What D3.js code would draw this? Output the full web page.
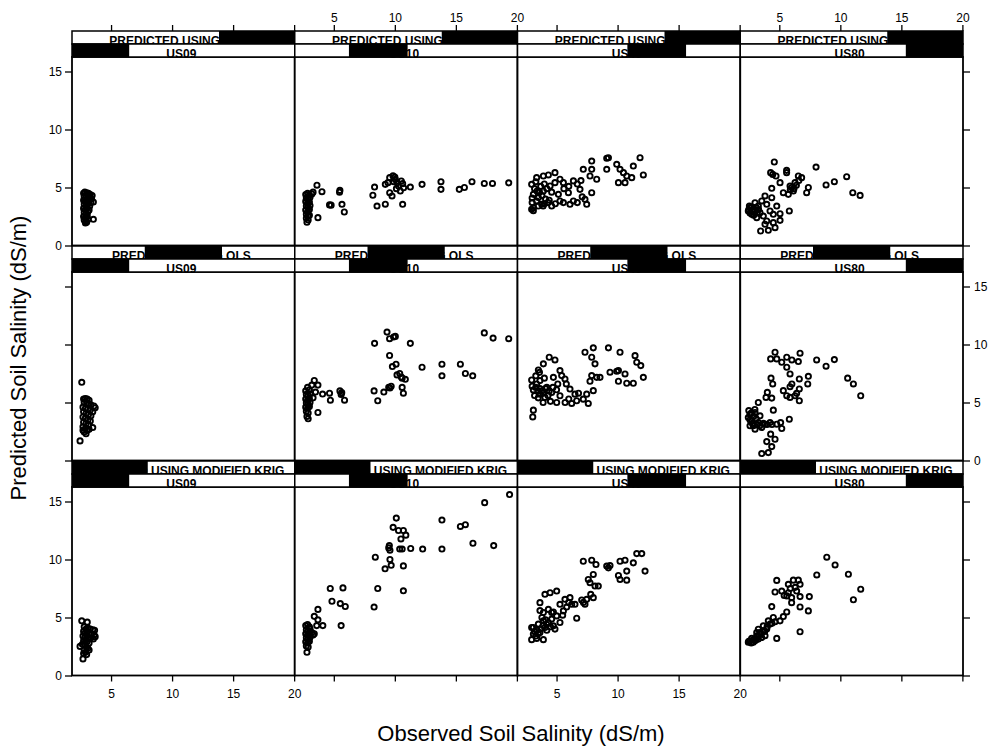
<!DOCTYPE html>
<html>
<head>
<meta charset="utf-8">
<script src="https://cdn.jsdelivr.net/npm/d3@7"></script>
<style>
  body { margin: 0; background: #fff; }
  svg text { font-family: "Liberation Sans", Arial, Helvetica, sans-serif; }
</style>
</head>
<body>
<div id="chart"></div>
<script>
// conditioning levels (columns = site, rows = prediction method)
var sites = ["US09", "US10", "US40", "US80"];
var methods = ["PREDICTED USING KRIG", "PREDICTED USING OLS", "PREDICTED USING MODIFIED KRIG"];
var xTicks = [5, 10, 15, 20];
var yTicks = [0, 5, 10, 15];

// [observed, predicted] pairs
var krigUS09 = [[2.75,4.5],[2.85,4.6],[3.0,4.55],[3.15,4.5],[3.3,4.4],[3.45,4.3],[2.8,4.2],[2.95,4.3],[3.1,4.15],[3.25,4.2],[3.4,4.0],[2.75,3.9],[2.9,3.8],[3.05,3.95],[3.2,3.85],[3.35,3.7],[3.55,3.75],[2.8,3.55],[2.95,3.45],[3.1,3.6],[3.25,3.4],[2.75,3.2],[2.9,3.1],[3.05,3.25],[3.2,3.05],[2.8,2.85],[2.95,2.75],[3.1,2.9],[2.75,2.5],[2.9,2.4],[3.05,2.55],[2.8,2.2],[2.95,2.1],[3.1,2.25],[2.9,1.95],[3.55,2.26],[3.0,2.0]];
var krigUS10 = [[2.7,4.4],[2.85,4.5],[3.0,4.35],[3.2,4.45],[2.75,4.1],[2.9,4.0],[3.05,4.15],[2.7,3.8],[2.85,3.65],[3.0,3.75],[2.75,3.4],[2.9,3.3],[3.05,3.45],[2.7,3.05],[2.85,2.9],[3.0,3.1],[2.75,2.7],[2.9,2.55],[2.75,2.35],[2.9,2.2],[2.8,2.0],[3.0,2.6],[3.7,2.4],[3.62,5.2],[4.03,4.64],[3.3,4.6],[4.65,3.5],[4.78,3.48],[5.47,4.6],[5.5,4.75],[5.67,3.55],[5.86,2.89],[8.34,5.04],[8.2,4.33],[8.54,3.4],[9.22,3.56],[9.22,5.27],[9.44,5.42],[9.58,5.85],[9.85,6.0],[10.04,5.7],[10.18,5.42],[10.3,5.13],[10.53,5.56],[10.64,5.33],[10.45,4.7],[9.58,4.55],[9.77,4.27],[10.13,4.9],[10.72,4.98],[9.9,5.5],[10.0,5.9],[10.64,3.55],[11.27,5.04],[12.23,5.27],[13.78,5.5],[13.78,4.84],[15.28,4.84],[15.7,5.0],[16.32,5.5],[17.33,5.35],[18.0,5.35],[19.33,5.4]];
var krigUS40 = [[2.96,5.27],[3.37,5.85],[3.92,5.99],[4.33,6.08],[4.87,6.28],[5.28,5.71],[5.56,5.42],[6.38,5.57],[7.19,6.57],[7.88,7.28],[7.88,6.57],[7.74,5.99],[8.29,5.71],[9.11,7.52],[9.25,7.57],[9.11,6.57],[9.93,7.0],[10.2,6.57],[10.48,6.28],[10.75,5.99],[11.29,6.85],[11.84,7.57],[12.11,6.08],[10.07,5.42],[10.61,5.42],[11.16,5.85],[6.92,4.84],[7.88,4.55],[7.33,3.98],[7.47,3.55],[5.97,4.55],[6.1,3.55],[6.38,3.84],[5.15,4.41],[4.47,5.13],[3.1,4.41],[3.1,3.26],[3.37,3.84],[3.78,3.55],[4.6,3.4],[5.28,3.84],[5.56,3.7],[3.92,4.7],[3.51,4.13],[2.96,3.12],[4.87,5.42],[3.2,4.9],[3.6,4.6],[3.8,4.3],[4.1,4.0],[4.3,3.7],[3.5,3.4],[3.0,3.7],[4.0,5.3],[4.6,4.6],[3.3,5.5],[3.7,5.1],[4.2,4.9],[3.0,4.1],[4.9,3.6],[5.6,4.9],[6.0,5.1],[6.7,5.3],[7.0,5.6],[3.1,3.0],[3.9,3.4],[4.4,3.9],[6.7,3.7],[7.1,4.2],[4.0,3.6],[3.4,4.7]];
var krigUS80 = [[4.59,7.2],[5.6,6.48],[5.6,6.28],[4.29,6.28],[4.46,6.13],[4.73,5.99],[8.01,6.76],[10.52,5.93],[9.51,5.5],[8.83,5.22],[11.02,4.55],[11.62,4.32],[7.38,5.0],[7.24,4.55],[6.56,5.99],[6.83,5.85],[6.29,5.42],[5.88,5.13],[6.15,4.7],[5.74,4.41],[5.33,4.55],[5.06,5.42],[4.38,4.93],[3.83,4.27],[4.38,4.12],[5.82,2.98],[5.06,2.74],[5.06,2.17],[4.65,1.54],[4.1,1.31],[3.47,1.25],[4.51,1.97],[3.97,2.11],[2.87,3.12],[2.6,3.26],[2.46,2.98],[3.28,3.4],[3.42,2.83],[3.69,2.54],[4.24,2.98],[4.79,3.4],[3.01,3.69],[3.56,3.84],[2.74,2.69],[3.15,2.4],[3.97,3.55],[4.51,2.69],[3.83,1.83],[2.5,3.1],[2.7,3.3],[2.8,2.9],[3.0,3.0],[3.1,3.3],[2.6,2.8],[2.9,2.6],[3.2,2.8],[3.3,3.1],[2.55,3.4],[6.0,5.0],[6.4,5.2],[6.2,4.9],[5.9,4.8],[6.6,5.6]];

var olsUS09 = [[2.6,6.74],[2.46,1.69],[3.5,2.84],[2.75,5.3],[2.9,5.35],[3.05,5.3],[3.2,5.2],[2.8,5.0],[3.0,4.95],[3.15,4.9],[3.35,4.8],[3.6,4.7],[3.7,4.55],[2.7,4.6],[2.9,4.5],[3.1,4.45],[3.3,4.35],[3.5,4.2],[2.75,4.2],[2.95,4.05],[3.15,3.95],[3.35,3.85],[2.7,3.75],[2.9,3.65],[3.1,3.5],[3.3,3.4],[2.75,3.3],[2.95,3.2],[3.15,3.05],[2.7,2.9],[2.9,2.75],[3.05,2.6],[2.8,2.45],[2.95,2.3],[2.7,2.6],[3.2,2.7]];
var olsUS10 = [[2.7,6.0],[2.85,6.3],[3.0,6.1],[2.75,5.7],[2.9,5.6],[3.05,5.75],[2.7,5.3],[2.85,5.2],[3.0,5.35],[2.75,4.95],[2.9,4.85],[3.05,5.0],[2.7,4.6],[2.85,4.5],[3.0,4.65],[2.75,4.25],[2.9,4.1],[2.8,3.8],[2.9,3.6],[3.2,6.5],[3.4,6.9],[3.7,6.5],[3.7,4.14],[3.3,5.4],[3.5,5.9],[4.08,5.73],[4.65,5.8],[4.72,5.2],[5.5,6.0],[5.6,5.7],[5.65,5.85],[5.88,5.2],[8.34,10.1],[8.3,6.0],[8.6,5.15],[9.36,11.07],[9.57,10.5],[10.04,10.7],[9.9,10.65],[11.27,10.1],[9.57,9.05],[9.8,8.1],[10.1,8.3],[10.18,7.38],[10.53,7.2],[10.86,7.0],[10.4,7.5],[10.6,7.1],[9.1,5.9],[9.5,6.3],[9.6,6.25],[9.7,6.4],[10.6,6.3],[10.7,5.8],[12.23,8.04],[13.86,8.3],[13.86,7.3],[15.37,8.3],[15.78,7.5],[16.38,7.3],[17.33,11.0],[18.05,10.55],[19.33,10.5]];
var olsUS40 = [[2.96,6.94],[3.1,6.08],[3.64,6.89],[3.92,8.33],[4.4,8.9],[4.87,8.67],[3.51,7.8],[3.37,6.6],[3.64,5.72],[4.05,5.44],[4.6,5.87],[5.01,5.0],[5.28,5.58],[4.74,7.17],[5.28,7.75],[5.42,7.32],[5.69,7.03],[6.1,6.16],[6.51,5.72],[6.24,4.92],[6.65,5.15],[7.19,5.29],[7.47,5.72],[7.6,4.92],[8.01,6.02],[7.33,9.33],[8.01,9.71],[7.88,8.9],[8.15,8.33],[7.88,7.32],[7.74,6.83],[8.29,7.17],[8.56,7.17],[9.25,9.71],[9.38,7.61],[9.93,7.69],[10.07,7.75],[10.2,9.33],[10.07,6.83],[10.61,7.46],[10.75,6.66],[11.29,6.66],[11.43,9.04],[11.57,8.47],[11.9,8.18],[12.11,7.17],[3.1,4.34],[3.05,3.76],[3.64,6.2],[4.2,6.3],[5.7,5.0],[3.9,5.0],[4.5,5.1],[5.8,6.6],[3.0,6.4],[3.3,6.3],[3.5,6.0],[3.8,6.0],[4.1,6.2],[4.4,6.0],[4.7,6.3],[5.0,6.1],[3.2,5.6],[3.5,5.4],[3.9,5.8],[4.3,5.6],[3.3,7.3],[3.6,7.6],[4.0,7.1],[5.1,6.6],[6.0,5.3],[6.8,5.8]];
var olsUS80 = [[4.65,9.33],[4.29,8.76],[4.79,8.76],[5.2,8.47],[5.61,8.9],[6.03,8.67],[6.56,8.53],[6.7,9.25],[5.61,8.04],[5.88,7.46],[8.06,8.67],[8.83,8.13],[9.51,8.7],[10.6,7.1],[11.07,6.6],[11.67,5.58],[4.32,7.1],[4.46,6.6],[6.64,7.03],[7.38,7.26],[7.33,6.6],[6.03,6.6],[5.88,6.36],[5.33,6.02],[5.61,5.58],[5.88,5.44],[6.29,5.58],[6.64,6.17],[6.42,5.79],[6.64,5.15],[4.02,5.87],[3.91,5.44],[4.38,5.38],[3.28,5.0],[4.51,4.34],[5.82,3.56],[5.11,3.27],[5.2,2.76],[4.29,2.27],[4.65,1.83],[3.97,1.63],[4.38,1.2],[4.1,0.68],[3.56,0.6],[2.6,3.99],[2.46,3.7],[2.74,3.42],[3.01,4.14],[2.87,2.99],[3.28,3.27],[3.56,2.85],[3.83,3.13],[4.24,3.27],[4.79,3.13],[2.6,2.99],[3.01,2.7],[3.42,3.85],[2.5,4.3],[2.7,4.1],[2.9,3.8],[3.1,3.6],[2.6,3.5],[2.8,3.2],[3.2,3.1],[3.4,3.0],[3.7,3.2],[4.0,3.1],[4.4,3.1],[3.0,4.4]];

var mkrigUS09 = [[2.6,4.71],[3.05,4.6],[2.46,2.51],[2.7,1.43],[3.0,1.8],[3.2,2.2],[2.8,4.2],[2.95,4.0],[3.1,4.1],[3.3,4.0],[3.5,3.95],[3.65,3.9],[2.75,3.8],[2.9,3.7],[3.05,3.75],[3.2,3.6],[3.4,3.55],[3.6,3.5],[3.7,3.35],[2.7,3.4],[2.85,3.3],[3.0,3.35],[3.15,3.2],[3.35,3.25],[3.55,3.15],[2.75,3.0],[2.9,2.9],[3.05,2.95],[3.2,2.8],[2.65,2.7],[2.85,2.6],[3.0,2.45],[2.8,2.2],[2.9,2.0],[3.1,2.35],[2.75,1.9]];
var mkrigUS10 = [[2.7,4.3],[2.85,4.4],[3.0,4.2],[2.75,3.95],[2.9,3.85],[3.05,4.0],[2.7,3.6],[2.85,3.5],[3.0,3.65],[2.75,3.25],[2.9,3.15],[3.05,3.3],[2.7,2.9],[2.85,2.8],[3.0,2.95],[2.75,2.55],[2.9,2.45],[2.8,2.0],[3.2,3.7],[3.3,3.5],[3.4,3.6],[3.7,5.7],[3.4,5.1],[3.7,4.8],[4.1,4.3],[3.6,4.3],[4.71,7.5],[4.85,6.4],[5.53,6.2],[5.75,7.55],[5.94,5.95],[5.6,4.3],[8.4,10.2],[8.3,5.9],[8.6,7.5],[10.12,13.57],[9.86,12.77],[10.3,12.5],[10.7,12.5],[10.9,12.1],[10.5,11.77],[9.5,11.0],[9.6,10.8],[10.4,10.9],[10.6,10.9],[11.3,10.95],[9.6,10.0],[9.2,9.2],[9.7,9.5],[10.7,9.45],[10.7,7.3],[9.55,11.2],[12.28,10.9],[13.86,13.4],[13.86,10.9],[15.37,12.85],[15.78,13.0],[16.4,11.4],[17.36,14.9],[18.1,11.2],[19.4,15.6]];
var mkrigUS40 = [[2.96,4.14],[3.1,3.57],[2.96,3.09],[3.37,3.2],[3.64,3.71],[3.51,4.43],[3.92,4.71],[4.05,4.14],[4.33,4.57],[4.6,4.86],[4.74,4.28],[5.28,4.57],[5.01,5.14],[4.6,5.43],[3.64,6.28],[3.92,5.43],[4.05,7.0],[4.47,7.14],[5.01,7.28],[4.74,5.48],[5.28,6.14],[5.56,5.57],[5.69,6.57],[6.1,6.71],[6.24,6.14],[6.51,6.14],[6.65,4.94],[7.06,6.51],[7.33,6.14],[7.47,6.57],[8.01,6.71],[7.74,8.0],[7.6,8.28],[8.01,8.71],[8.15,7.71],[8.42,7.71],[7.19,9.85],[7.88,9.94],[8.23,9.57],[9.11,9.43],[9.25,9.28],[9.38,9.48],[10.2,9.85],[10.61,9.94],[11.29,9.71],[11.57,10.51],[11.98,10.51],[12.25,9.0],[10.07,8.62],[10.2,8.28],[10.75,8.22],[10.75,9.0],[3.64,5.6],[4.33,5.7],[3.1,4.14],[3.92,3.09],[4.2,3.9],[4.87,4.0],[5.83,5.9],[3.2,3.8],[3.4,3.9],[3.7,4.0],[3.9,4.3],[4.2,4.4],[3.3,3.4],[3.5,3.6],[4.5,4.2],[4.1,4.8],[3.8,5.0],[5.5,5.2],[6.0,6.3],[7.2,6.3],[7.8,7.0]];
var mkrigUS80 = [[8.89,10.2],[9.57,9.53],[10.66,8.73],[11.67,7.44],[11.07,6.53],[8.07,8.67],[4.79,8.2],[5.74,7.86],[6.15,8.22],[6.56,8.22],[6.7,7.86],[4.65,7.2],[5.2,7.28],[5.74,7.14],[6.42,7.28],[5.61,6.86],[6.01,6.71],[6.7,6.8],[7.46,6.8],[6.01,6.28],[6.7,5.91],[7.38,5.57],[4.38,5.94],[5.61,5.48],[5.33,5.08],[5.06,4.71],[4.51,5.0],[4.1,4.71],[3.69,4.28],[3.28,3.99],[3.15,3.71],[6.7,3.77],[4.79,3.2],[2.6,3.0],[2.87,2.86],[3.28,3.14],[3.56,3.28],[3.83,3.43],[3.15,3.43],[2.74,3.2],[3.42,3.71],[3.97,4.0],[4.24,4.43],[4.65,4.63],[3.69,3.86],[2.46,2.86],[3.01,3.0],[2.5,2.95],[2.7,2.8],[2.9,3.1],[3.1,3.1],[3.3,3.4],[3.5,3.6],[3.8,3.8],[4.0,4.2],[4.4,4.5],[5.9,7.5],[6.3,7.6],[5.4,6.9]];

var panelData = [
  [krigUS09, krigUS10, krigUS40, krigUS80],
  [olsUS09, olsUS10, olsUS40, olsUS80],
  [mkrigUS09, mkrigUS10, mkrigUS40, mkrigUS80]
];

// layout
var svgW = 994, svgH = 748;
var gridLeft = 72, gridTop = 31;
var colW = 222.75, stripH = 13, plotH = 188.5, rowH = 215;
var gridRight = gridLeft + colW * sites.length;
var gridBottom = gridTop + rowH * 2 + 2 * stripH + plotH;

var svg = d3.select("#chart").append("svg")
    .attr("width", svgW)
    .attr("height", svgH);

var x = d3.scaleLinear().domain([1.8, 20.05]).range([0, colW]);
var y = d3.scaleLinear().domain([0, 16.25]).range([plotH, 0]);

var noLabel = function() { return ""; };
var tickStyle = function(g) {
  g.select(".domain").remove();
  g.selectAll(".tick line").attr("stroke", "#000").attr("stroke-width", 1.3);
  g.selectAll(".tick text").attr("fill", "#000").style("font-size", "12px");
};

methods.forEach(function(method, r) {
  var rowTop = gridTop + r * rowH;
  var plotTop = rowTop + 2 * stripH;
  sites.forEach(function(site, c) {
    var x0 = gridLeft + c * colW;
    var g = svg.append("g").attr("transform", "translate(" + x0 + "," + plotTop + ")");

    g.append("rect")
        .attr("width", colW).attr("height", plotH)
        .attr("fill", "#fff").attr("stroke", "#000").attr("stroke-width", 1.8);

    g.selectAll("circle").data(panelData[r][c]).enter().append("circle")
        .attr("cx", function(d) { return x(d[0]); })
        .attr("cy", function(d) { return y(d[1]); })
        .attr("r", 2.6)
        .attr("fill", "none")
        .attr("stroke", "#000")
        .attr("stroke-width", 1.9);

    // strips: method on top, site below; black bar marks the level
    var strips = [
      {label: method, lev: methods.length - 1 - r, n: methods.length},
      {label: site, lev: c, n: sites.length}
    ];
    strips.forEach(function(s, k) {
      var sy = rowTop + k * stripH;
      var sg = svg.append("g").attr("transform", "translate(" + x0 + "," + sy + ")");
      sg.append("rect").attr("width", colW).attr("height", stripH).attr("fill", "#fff");
      sg.append("text")
          .attr("x", colW / 2 - 2).attr("y", stripH + 1.2)
          .attr("text-anchor", "middle")
          .style("font-size", "12px").style("font-weight", "bold")
          .text(s.label);
      var bx0 = Math.max(0, colW * s.lev / s.n - 1.5);
      var bx1 = Math.min(colW, colW * (s.lev + 1) / s.n + 1.5);
      sg.append("rect")
          .attr("x", bx0).attr("width", bx1 - bx0)
          .attr("height", stripH).attr("fill", "#000");
      sg.append("rect").attr("width", colW).attr("height", stripH)
          .attr("fill", "none").attr("stroke", "#000").attr("stroke-width", 1.5);
    });

    // x axes on top and bottom, labels alternate between columns
    if (r === 0) {
      svg.append("g").attr("transform", "translate(" + x0 + "," + gridTop + ")")
          .call(d3.axisTop(x).tickValues(xTicks).tickSize(6).tickPadding(3)
              .tickFormat(c % 2 === 1 ? d3.format("d") : noLabel))
          .call(tickStyle);
    }
    if (r === methods.length - 1) {
      svg.append("g").attr("transform", "translate(" + x0 + "," + gridBottom + ")")
          .call(d3.axisBottom(x).tickValues(xTicks).tickSize(6).tickPadding(8)
              .tickFormat(c % 2 === 0 ? d3.format("d") : noLabel))
          .call(tickStyle);
    }
  });

  // y axes left and right, labels alternate between rows
  svg.append("g").attr("transform", "translate(" + gridLeft + "," + plotTop + ")")
      .call(d3.axisLeft(y).tickValues(yTicks).tickSize(7).tickPadding(3)
          .tickFormat(r % 2 === 0 ? d3.format("d") : noLabel))
      .call(tickStyle);
  svg.append("g").attr("transform", "translate(" + gridRight + "," + plotTop + ")")
      .call(d3.axisRight(y).tickValues(yTicks).tickSize(7).tickPadding(4)
          .tickFormat(r % 2 === 1 ? d3.format("d") : noLabel))
      .call(tickStyle);
});

svg.append("text")
    .attr("x", 521).attr("y", 741)
    .attr("text-anchor", "middle")
    .style("font-size", "22px")
    .text("Observed Soil Salinity (dS/m)");

svg.append("text")
    .attr("transform", "translate(26,358) rotate(-90)")
    .attr("text-anchor", "middle")
    .style("font-size", "22px")
    .text("Predicted Soil Salinity (dS/m)");
</script>
</body>
</html>
